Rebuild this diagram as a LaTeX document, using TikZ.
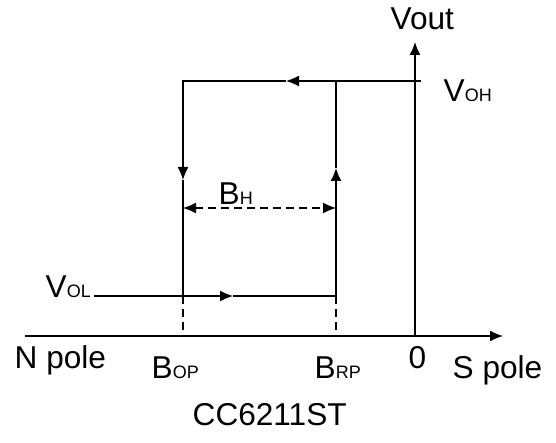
\documentclass[tikz,border=0pt]{standalone}
\usepackage{fontspec}
\setmainfont{Liberation Sans}
\usetikzlibrary{arrows.meta}
\usetikzlibrary{positioning}
\newcommand{\vsub}[2]{#1{\fontsize{9}{10}\selectfont #2}}

\begin{document}
\begin{tikzpicture}[x=0.5pt,y=-0.5pt,line width=.7pt,
  lab/.style={anchor=base west,inner sep=0pt,font=\fontsize{15.8}{18}\selectfont},
  tip/.style={-{Latex[length=6.5pt,width=5.5pt]}},
  dim/.style={dash pattern=on 4pt off 2.5pt}]
  \useasboundingbox (0,0) rectangle (556,443);
  % axes
  \coordinate (o) at (415,336);
  \coordinate (xs) at (25,336);
  \coordinate (xe) at (503,336);
  \coordinate (yt) at (415,42);
  \draw[tip] (xs) -- (xe);
  \draw[tip] (o) -- (yt);

  % hysteresis loop
  \coordinate (hl) at (183,81);
  \coordinate (hr) at (421,81);
  \coordinate (hm) at (286,81);
  \coordinate (rt) at (336,81);
  \coordinate (dm) at (183,180);
  \coordinate (um) at (336,168);
  \coordinate (ll) at (183,296);
  \coordinate (lr) at (336,296);
  \coordinate (lb) at (94,296);
  \coordinate (lm) at (233,296);
  \draw[tip] (hr) -- (hm);
  \draw[tip] (hm) -- (hl) -- (dm);
  \draw (dm) -- (ll);
  \draw[tip] (lb) -- (lm);
  \draw[tip] (lm) -- (lr) -- (um);
  \draw (um) -- (rt);

  % thresholds
  \coordinate (bop) at (183,336);
  \coordinate (brp) at (336,336);
  \draw[dim] (ll) -- (bop);
  \draw[dim] (lr) -- (brp);
  \coordinate (bhl) at (183,208);
  \coordinate (bhr) at (336,208);
  \draw[dim,{Latex[length=6.5pt,width=5.5pt]}-{Latex[length=6.5pt,width=5.5pt]}] (bhl) -- (bhr);

  % labels
  \node[lab] (vout) at (390,30) {Vout};
  \node[lab] (voh) at (443,102) {\vsub{V}{OH}};
  \node[lab] (vol) at (45,297) {\vsub{V}{OL}};
  \node[lab] (bh) at (218,205) {\vsub{B}{H}};
  \node[lab] (npole) at (14,368) {N pole};
  \node[lab] (bopl) at (151,378) {\vsub{B}{OP}};
  \node[lab] (brpl) at (314,378) {\vsub{B}{RP}};
  \node[lab] (zero) at (408,368) {0};
  \node[lab] (spole) at (452,378) {S pole};
  \node[lab] (part) at (192,425) {CC6211ST};
\end{tikzpicture}
\end{document}
